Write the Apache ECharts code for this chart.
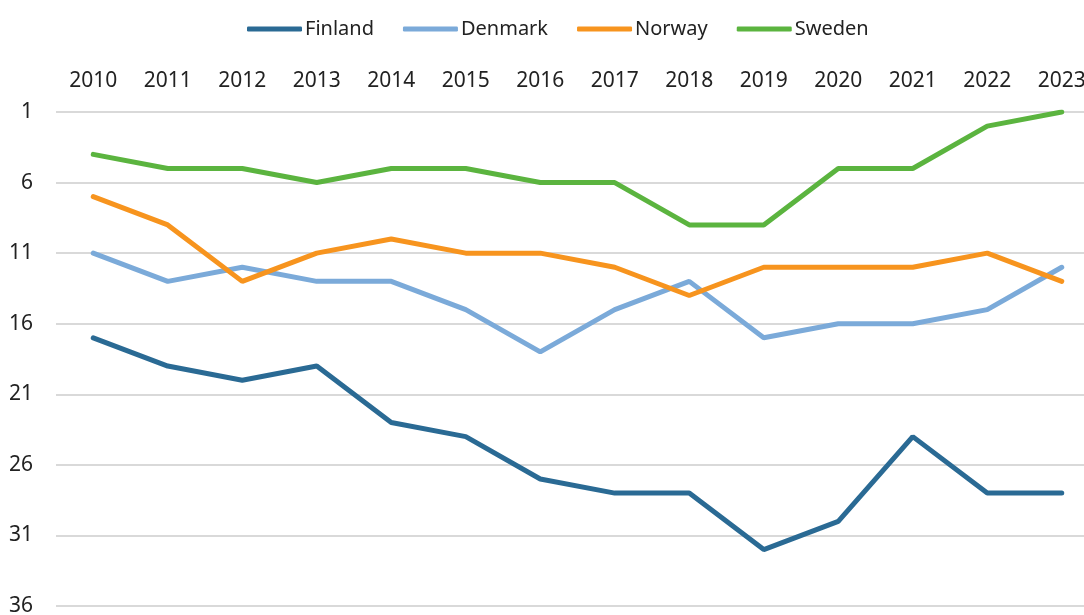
<!DOCTYPE html>
<html>
<head>
<meta charset="utf-8">
<script src="https://cdn.jsdelivr.net/npm/echarts@6/dist/echarts.min.js"></script>
<style>html,body{margin:0;padding:0;background:#fff}#c{width:1084px;height:615px}</style>
</head>
<body>
<div id="c"></div>
<script>
const years = ['2010','2011','2012','2013','2014','2015','2016','2017','2018','2019','2020','2021','2022','2023'];
const finland = [17,19,20,19,23,24,27,28,28,32,30,24,28,28];
const denmark = [11,13,12,13,13,15,18,15,13,17,16,16,15,12];
const norway  = [7,9,13,11,10,11,11,12,14,12,12,12,11,13];
const sweden  = [4,5,5,6,5,5,6,6,9,9,5,5,2,1];

const FONT = '"Noto Sans", sans-serif';
const chart = echarts.init(document.getElementById('c'), null, {renderer:'canvas'});
function s(name, data, color){
  return {name, type:'line', data, symbol:'none', color,
    lineStyle:{width:5, color, cap:'round'}};
}
chart.setOption({
  animation:false,
  legend:{top:14, left:242, itemWidth:55, itemHeight:5, itemGap:29, icon:'roundRect',
    textStyle:{fontFamily:FONT, fontSize:20, color:'#222', padding:[0,0,0,-2]},
    data:['Finland','Denmark','Norway','Sweden']},
  grid:{left:56, top:112, right:-15, bottom:9, containLabel:false, outerBoundsMode:'none'},
  xAxis:{type:'category', position:'top', data:years, boundaryGap:true,
    axisLine:{show:false}, axisTick:{show:false},
    axisLabel:{fontFamily:FONT, fontSize:21, color:'#222', margin:20}},
  yAxis:{type:'value', inverse:true, min:1, max:36, interval:5,
    axisLine:{show:false}, axisTick:{show:false},
    splitLine:{lineStyle:{color:'#d9d9d9', width:2}},
    axisLabel:{fontFamily:FONT, fontSize:21, color:'#222', margin:23}},
  series:[s('Finland',finland,'#2A6A94'), s('Denmark',denmark,'#7BAAD9'),
          s('Norway',norway,'#F7941E'), s('Sweden',sweden,'#5BB43F')]
});
</script>
</body>
</html>
